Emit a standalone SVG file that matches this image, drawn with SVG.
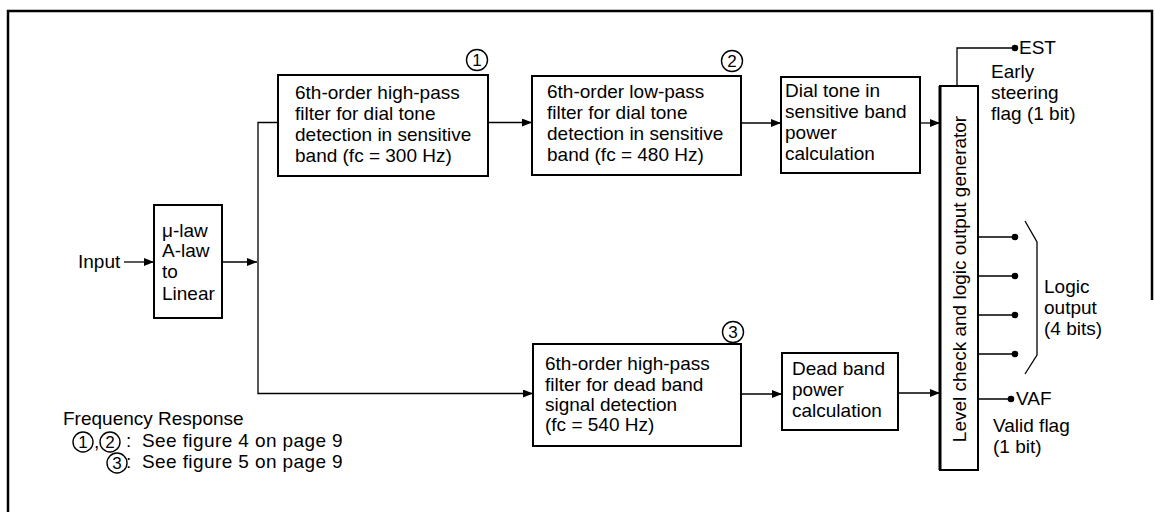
<svg xmlns="http://www.w3.org/2000/svg" width="1155" height="512" viewBox="0 0 1155 512">
<style>
text{font-family:"Liberation Sans",Arial,sans-serif;font-size:19px;fill:#000}
.leg{letter-spacing:0.4px}
.box{fill:#fff;stroke:#000;stroke-width:2}
.ln{fill:none;stroke:#000;stroke-width:1.3}
.num{font-size:17px;text-anchor:middle}
.circ{fill:none;stroke:#000;stroke-width:1.4}
</style>
<defs>
<marker id="ah" viewBox="0 0 10 8" refX="10" refY="4" markerWidth="10" markerHeight="8" markerUnits="userSpaceOnUse" orient="auto">
<path d="M0,0 L10,4 L0,8 z" fill="#000"/>
</marker>
</defs>
<rect width="1155" height="512" fill="#fff"/>
<path d="M8,512 V11 H1152 V300" fill="none" stroke="#000" stroke-width="2.5"/>

<g id="connectors">
<path class="ln" d="M124,262 H154" marker-end="url(#ah)"/>
<path class="ln" d="M222,262 H257" marker-end="url(#ah)"/>
<path class="ln" d="M278,122.5 H258 V393.5 H533" marker-end="url(#ah)"/>
<path class="ln" d="M488,122.5 H532" marker-end="url(#ah)"/>
<path class="ln" d="M741,123 H781" marker-end="url(#ah)"/>
<path class="ln" d="M920,123 H940" marker-end="url(#ah)"/>
<path class="ln" d="M741,394 H782" marker-end="url(#ah)"/>
<path class="ln" d="M898,393 H940" marker-end="url(#ah)"/>
<path class="ln" d="M957,86 V48 H1015"/>
<path class="ln" d="M978,237 H1015 M978,276 H1015 M978,315 H1015 M978,354 H1015 M978,399 H1011"/>
<path class="ln" d="M1025,221 L1037,242 V355 L1025,374"/>
<circle cx="1015" cy="48" r="3.3"/>
<circle cx="1015" cy="237" r="3.3"/>
<circle cx="1015" cy="276" r="3.3"/>
<circle cx="1015" cy="315" r="3.3"/>
<circle cx="1015" cy="354" r="3.3"/>
<circle cx="1011" cy="399" r="3.3"/>
</g>

<g id="input"><text x="78" y="268">Input</text></g>

<g id="converter">
<rect class="box" x="154" y="205" width="68" height="113"/>
<text x="162" y="237">μ-law</text>
<text x="162" y="257">A-law</text>
<text x="162" y="278">to</text>
<text x="162" y="300">Linear</text>
</g>

<g id="hpf1">
<rect class="box" x="278" y="75" width="210" height="101"/>
<circle class="circ" cx="477" cy="60" r="10.5"/>
<text class="num" x="477" y="66">1</text>
<text x="295" y="99">6th-order high-pass</text>
<text x="295" y="120">filter for dial tone</text>
<text x="295" y="141">detection in sensitive</text>
<text x="295" y="162">band (fc = 300 Hz)</text>
</g>

<g id="lpf2">
<rect class="box" x="532" y="76" width="209" height="99"/>
<circle class="circ" cx="732" cy="61" r="10.5"/>
<text class="num" x="732" y="67">2</text>
<text x="547" y="98">6th-order low-pass</text>
<text x="547" y="119">filter for dial tone</text>
<text x="547" y="140">detection in sensitive</text>
<text x="547" y="161">band (fc = 480 Hz)</text>
</g>

<g id="dialpower">
<rect class="box" x="781" y="77" width="139" height="96"/>
<text x="785" y="97">Dial tone in</text>
<text x="785" y="118">sensitive band</text>
<text x="785" y="139">power</text>
<text x="785" y="160">calculation</text>
</g>

<g id="hpf3">
<rect class="box" x="533" y="344" width="208" height="102"/>
<circle class="circ" cx="733" cy="332" r="10.5"/>
<text class="num" x="733" y="338">3</text>
<text x="545" y="370">6th-order high-pass</text>
<text x="545" y="391">filter for dead band</text>
<text x="545" y="411">signal detection</text>
<text x="545" y="431">(fc = 540 Hz)</text>
</g>

<g id="deadpower">
<rect class="box" x="782" y="353" width="116" height="77"/>
<text x="792" y="375">Dead band</text>
<text x="792" y="396">power</text>
<text x="792" y="417">calculation</text>
</g>

<g id="levelcheck">
<rect class="box" x="940" y="86" width="38" height="384"/>
<line x1="940" y1="86" x2="940" y2="470" stroke="#000" stroke-width="3"/>
<text transform="translate(966,279) rotate(-90)" text-anchor="middle">Level check and logic output generator</text>
</g>

<g id="est">
<text x="1019" y="54">EST</text>
<text x="991" y="78">Early</text>
<text x="991" y="99">steering</text>
<text x="991" y="120">flag (1 bit)</text>
</g>

<g id="logic">
<text x="1044" y="293">Logic</text>
<text x="1044" y="314">output</text>
<text x="1044" y="335">(4 bits)</text>
</g>

<g id="vaf">
<text x="1016" y="405">VAF</text>
<text x="993" y="432">Valid flag</text>
<text x="993" y="453">(1 bit)</text>
</g>

<g id="legend">
<text x="63" y="425">Frequency Response</text>
<circle class="circ" cx="83" cy="442" r="10"/>
<text class="num" x="83" y="448">1</text>
<text x="94" y="448">,</text>
<circle class="circ" cx="110" cy="442" r="10"/>
<text class="num" x="110" y="448">2</text>
<text x="126" y="447">:</text>
<text class="leg" x="142" y="447">See figure 4 on page 9</text>
<circle class="circ" cx="117" cy="463" r="10"/>
<text class="num" x="117" y="469">3</text>
<text x="126" y="468">:</text>
<text class="leg" x="142" y="468">See figure 5 on page 9</text>
</g>
</svg>
